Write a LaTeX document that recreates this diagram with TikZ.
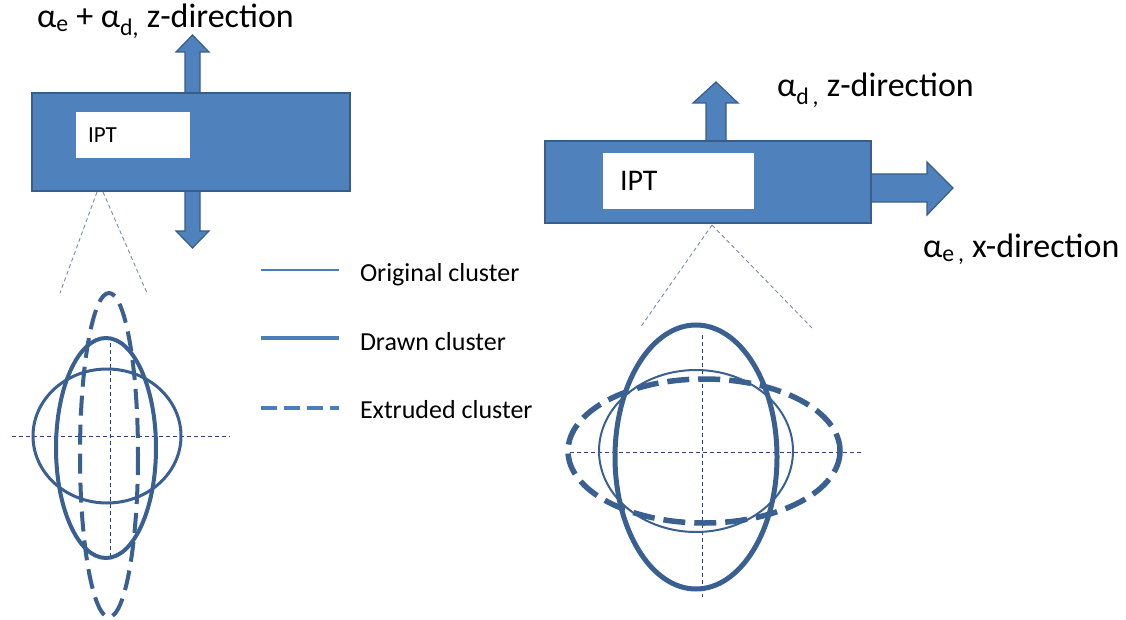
\documentclass[tikz,border=0pt]{standalone}
\usepackage{fontspec}
\setmainfont{Carlito}
\usepackage{tikz}
\usetikzlibrary{positioning}

\definecolor{boxblue}{RGB}{79,129,189}
\definecolor{boxedge}{RGB}{56,93,138}
\definecolor{clublue}{RGB}{58,95,145}
\definecolor{legblue}{RGB}{74,126,187}
\definecolor{axisblue}{RGB}{45,65,115}
\definecolor{conegrey}{RGB}{120,140,172}

\begin{document}
\begin{tikzpicture}[x=1pt,y=-1pt,
  every node/.style={inner sep=0pt,outer sep=0pt},
  iptbox/.style={draw=boxedge,fill=boxblue,line width=1.5pt,rectangle},
  iptwin/.style={fill=white,rectangle},
  bigarrow/.style={draw=boxedge,fill=boxblue,line width=1.2pt,line join=miter},
  dirlabel/.style={font=\fontsize{34}{40}\selectfont,anchor=base west},
  leglabel/.style={font=\fontsize{26}{31}\selectfont,anchor=base west},
  axis/.style={draw=axisblue,line width=0.8pt,dash pattern=on 4pt off 3pt},
  cone/.style={draw=conegrey,line width=0.9pt,dash pattern=on 4pt off 3pt},
  original/.style={draw=clublue,line width=3pt},
  drawn/.style={draw=clublue,line width=4pt},
  extruded/.style={draw=clublue,line width=4pt,dash pattern=on 20pt off 9pt}]

  \fill[white] (0,0) rectangle (1126,620);
  \useasboundingbox (0,0) rectangle (1126,620);

  % left pixel: dilatation + expansion, both along z
  \draw[bigarrow] (185,52) -- (176,52) -- (192.5,35) -- (209,52) -- (200,52)
    -- (200,231) -- (209,231) -- (192.5,248) -- (176,231) -- (185,231) -- cycle;
  \node[iptbox,minimum width=318,minimum height=98] (boxL) at (191,142) {};
  \node[iptwin,minimum width=114,minimum height=46] (winL) at (133,135) {};
  \node[font=\fontsize{23}{28}\selectfont,anchor=west] (iptL) at ([xshift=12]winL.west) {IPT};
  \node[dirlabel] (labL) at (37,28)
    {α\textsubscript{e} + α\textsubscript{d,} z-direction};

  % right pixel: dilatation along z, expansion along x
  \draw[bigarrow] (706,141) -- (706,103) -- (693,103) -- (716,82) -- (738,103)
    -- (726,103) -- (726,141) -- cycle;
  \draw[bigarrow] (871,174) -- (927,174) -- (927,162) -- (953,188) -- (927,215)
    -- (927,202) -- (871,202) -- cycle;
  \node[iptbox,minimum width=326,minimum height=82] (boxR) at (708,182) {};
  \node[iptwin,minimum width=151,minimum height=56] (winR) at (678.5,181) {};
  \node[font=\fontsize{30}{36}\selectfont,anchor=west] (iptR) at ([xshift=17]winR.west) {IPT};
  \node[dirlabel] (labRz) at (777,97) {α\textsubscript{d\,,} z-direction};
  \node[dirlabel] (labRx) at (923,258) {α\textsubscript{e\,,} x-direction};

  % zoom cones
  \coordinate (apexL1) at (97,192);
  \coordinate (apexL2) at (103,192);
  \coordinate (footL1) at (60,293);
  \coordinate (footL2) at (147,293);
  \draw[cone] (apexL1) -- (footL1);
  \draw[cone] (apexL2) -- (footL2);
  \coordinate (apexR) at (712,225);
  \coordinate (footR1) at (640,328);
  \coordinate (footR2) at (812,328);
  \draw[cone] (apexR) -- (footR1);
  \draw[cone] (apexR) -- (footR2);

  % left clusters
  \draw[axis] (12,436) -- (230,436);
  \draw[axis] (110,343) -- (110,557);
  \draw[original] (107,436) ellipse [x radius=74,y radius=67];
  \draw[drawn] (106,448) ellipse [x radius=50,y radius=110];
  \draw[extruded] (109,455) ellipse [x radius=29,y radius=162];

  % right clusters
  \draw[axis] (570,452) -- (862,452);
  \draw[axis] (702,335) -- (702,597);
  \draw[original,line width=2pt] (696,451) ellipse [x radius=97,y radius=81];
  \draw[drawn,line width=5pt] (696,457) ellipse [x radius=81,y radius=132];
  \draw[extruded,line width=5.5pt,dash pattern=on 22pt off 9pt] (704,451) ellipse [x radius=136,y radius=72];

  % legend
  \coordinate (legO) at (261,270);
  \coordinate (legD) at (261,338);
  \coordinate (legE) at (261,408);
  \draw[draw=legblue,line width=2.5pt] (legO) -- ++(78,0);
  \draw[draw=legblue,line width=4.5pt] (legD) -- ++(78,0);
  \draw[draw=legblue,line width=3.5pt,dash pattern=on 16pt off 7pt] (legE) -- ++(78,0);
  \node[leglabel] (txtO) at (360,281) {Original cluster};
  \node[leglabel] (txtD) at (360,350) {Drawn cluster};
  \node[leglabel] (txtE) at (360,418) {Extruded cluster};
\end{tikzpicture}
\end{document}
